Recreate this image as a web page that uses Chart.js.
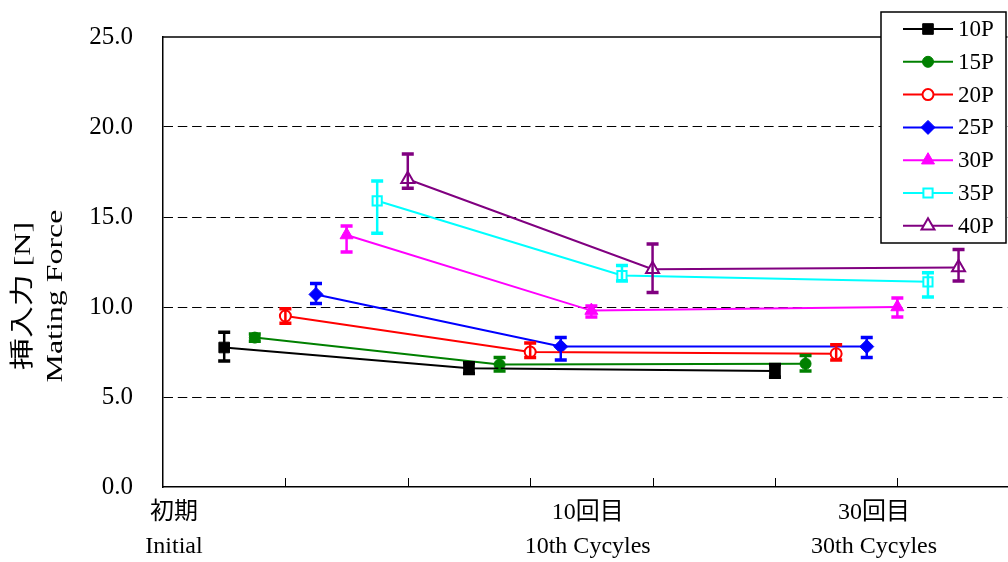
<!DOCTYPE html>
<html>
<head>
<meta charset="utf-8">
<script src="https://cdn.jsdelivr.net/npm/chart.js@4/dist/chart.umd.min.js"></script>
<style>
  body { margin: 0; background: #fff; overflow: hidden; }
  #wrap { width: 1017px; height: 562px; }
</style>
</head>
<body>
<div id="wrap"><canvas id="forceChart"></canvas></div>
<script>
// series names and colours
const seriesNames = ["10P", "15P", "20P", "25P", "30P", "35P", "40P"];
const seriesColors = ["#000000", "#008000", "#ff0000", "#0000ff", "#ff00ff", "#00ffff", "#800080"];

// x positions of each series inside the three groups
const xInitial = [0.5, 0.75, 1.0, 1.25, 1.5, 1.75, 2.0];
const x10th = [2.5, 2.75, 3.0, 3.25, 3.5, 3.75, 4.0];
const x30th = [5.0, 5.25, 5.5, 5.75, 6.0, 6.25, 6.5];

// mean mating force [N]
const meanInitial = [7.75, 8.3, 9.5, 10.7, 14.0, 15.9, 17.1];
const mean10th = [6.6, 6.8, 7.5, 7.8, 9.8, 11.75, 12.1];
const mean30th = [6.45, 6.85, 7.4, 7.8, 10.0, 11.4, 12.2];

// error bar ends
const hiInitial = [8.6, 8.5, 9.9, 11.3, 14.5, 17.0, 18.5];
const loInitial = [7.0, 8.1, 9.1, 10.2, 13.05, 14.1, 16.6];
const hi10th = [6.9, 7.2, 8.0, 8.3, 10.05, 12.3, 13.5];
const lo10th = [6.3, 6.45, 7.2, 7.05, 9.45, 11.45, 10.8];
const hi30th = [6.8, 7.3, 7.9, 8.3, 10.5, 11.9, 13.2];
const lo30th = [6.1, 6.45, 7.05, 7.2, 9.45, 10.55, 11.45];

// x axis labels (two lines each) and where they sit
const groupLabelsJa = ["初期", "10回目", "30回目"];
const groupLabelsEn = ["Initial", "10th Cycyles", "30th Cycyles"];
const groupLabelAt = [0.09, 3.47, 5.81];

const yTitle = ["挿入力 [N]", "Mating Force"];

const pointStyles = ["rect", "circle", "circle", "rectRot", "triangle", "rect", "triangle"];
const hollow = [false, false, true, false, false, true, true];
const pointSizes = [7.5, 5.5, 5.5, 7, 7.5, 6.5, 7.5];

const FONT = "'Liberation Serif', 'Times New Roman', 'Noto Sans CJK JP', serif";

const datasets = seriesNames.map((name, i) => ({
    label: name,
    data: [
        { x: xInitial[i], y: meanInitial[i] },
        { x: x10th[i], y: mean10th[i] },
        { x: x30th[i], y: mean30th[i] }
    ],
    borderColor: seriesColors[i],
    backgroundColor: seriesColors[i],
    borderWidth: 2,
    pointStyle: pointStyles[i],
    pointRadius: pointSizes[i],
    pointBackgroundColor: hollow[i] ? "#ffffff" : seriesColors[i],
    pointBorderColor: seriesColors[i],
    pointBorderWidth: hollow[i] ? 2 : 1,
    tension: 0
}));

// error bars, drawn on top of the markers
const errorBars = {
    id: "errorBars",
    afterDatasetsDraw(chart) {
        const ctx = chart.ctx;
        const xs = chart.scales.x, ys = chart.scales.y;
        const groups = [[xInitial, hiInitial, loInitial], [x10th, hi10th, lo10th], [x30th, hi30th, lo30th]];
        ctx.save();
        seriesNames.forEach((n, i) => {
            ctx.strokeStyle = seriesColors[i];
            groups.forEach(g => {
                const px = xs.getPixelForValue(g[0][i]);
                const top = ys.getPixelForValue(g[1][i]);
                const bot = ys.getPixelForValue(g[2][i]);
                ctx.lineWidth = 2.5;
                ctx.beginPath();
                ctx.moveTo(px, top);
                ctx.lineTo(px, bot);
                ctx.stroke();
                ctx.lineWidth = 3.5;
                ctx.beginPath();
                ctx.moveTo(px - 6, top); ctx.lineTo(px + 6, top);
                ctx.moveTo(px - 6, bot); ctx.lineTo(px + 6, bot);
                ctx.stroke();
            });
        });
        ctx.restore();
    }
};

// frame, inward tick marks, axis texts and legend box
const decorations = {
    id: "decorations",
    afterDraw(chart) {
        const ctx = chart.ctx;
        const area = chart.chartArea;
        const xs = chart.scales.x;
        ctx.save();
        ctx.strokeStyle = "#000";
        ctx.lineWidth = 1.5;
        ctx.beginPath();
        ctx.moveTo(area.left, area.top);
        ctx.lineTo(area.right, area.top);
        ctx.stroke();

        ctx.lineWidth = 1;
        xs.ticks.forEach(t => {
            if (t.value === 0) return;
            const px = Math.round(xs.getPixelForValue(t.value)) + 0.5;
            ctx.beginPath();
            ctx.moveTo(px, area.bottom);
            ctx.lineTo(px, area.bottom - 9);
            ctx.stroke();
        });

        ctx.fillStyle = "#000";
        ctx.font = "24px " + FONT;
        ctx.textAlign = "center";
        ctx.textBaseline = "middle";
        groupLabelAt.forEach((v, i) => {
            const px = xs.getPixelForValue(v);
            ctx.fillText(groupLabelsJa[i], px, area.bottom + 26);
            ctx.fillText(groupLabelsEn[i], px, area.bottom + 60);
        });

        // y title, stretched along the text like the original
        yTitle.forEach((line, i) => {
            ctx.save();
            ctx.translate(24 + i * 32, 296);
            ctx.rotate(-Math.PI / 2);
            ctx.scale(1.33, 1);
            ctx.fillText(line, 0, 0);
            ctx.restore();
        });

        // legend
        const lx = 881, ly = 12, lw = 125, lh = 231;
        ctx.fillStyle = "#fff";
        ctx.fillRect(lx, ly, lw, lh);
        ctx.lineWidth = 1.5;
        ctx.strokeRect(lx, ly, lw, lh);
        ctx.font = "23px " + FONT;
        ctx.textAlign = "left";
        seriesNames.forEach((name, i) => {
            const y = 29 + i * 32.8;
            ctx.strokeStyle = seriesColors[i];
            ctx.lineWidth = 2;
            ctx.beginPath();
            ctx.moveTo(903, y);
            ctx.lineTo(953, y);
            ctx.stroke();
            ctx.fillStyle = hollow[i] ? "#fff" : seriesColors[i];
            ctx.lineWidth = hollow[i] ? 2 : 1;
            Chart.helpers.drawPoint(ctx, {
                pointStyle: pointStyles[i],
                radius: pointSizes[i],
                rotation: 0,
                borderWidth: hollow[i] ? 2 : 1
            }, 928, y);
            ctx.fillStyle = "#000";
            ctx.fillText(name, 958, y + 1);
        });
        ctx.restore();
    }
};

new Chart(document.getElementById("forceChart"), {
    type: "line",
    data: { datasets: datasets },
    options: {
        responsive: true,
        maintainAspectRatio: false,
        animation: false,
        layout: { padding: { top: 37, left: 0, right: 0, bottom: 0 } },
        plugins: { legend: { display: false }, tooltip: { enabled: false } },
        scales: {
            x: {
                type: "linear",
                min: 0,
                max: 6.9,
                afterBuildTicks: scale => {
                    scale.ticks = [0, 1, 2, 3, 4, 5, 6].map(v => ({ value: v }));
                },
                afterFit: scale => {
                    scale.height = 75;
                    scale.paddingLeft = 0;
                    scale.paddingRight = 0;
                },
                ticks: { display: false },
                grid: { display: false },
                border: { display: true, color: "#000", width: 1.5 }
            },
            y: {
                min: 0,
                max: 25,
                afterFit: scale => {
                    scale.width = 163;
                    scale.paddingTop = 0;
                    scale.paddingBottom = 0;
                },
                ticks: {
                    stepSize: 5,
                    padding: 30,
                    color: "#000",
                    font: { family: FONT, size: 25 },
                    callback: v => v.toFixed(1)
                },
                grid: {
                    drawTicks: false,
                    lineWidth: 1,
                    color: c => (c.tick && (c.tick.value === 0 || c.tick.value === 25)) ? "rgba(0,0,0,0)" : "#000"
                },
                border: { display: true, color: "#000", width: 1.5, dash: [9.5, 4.8] }
            }
        }
    },
    plugins: [errorBars, decorations]
});
</script>
</body>
</html>
